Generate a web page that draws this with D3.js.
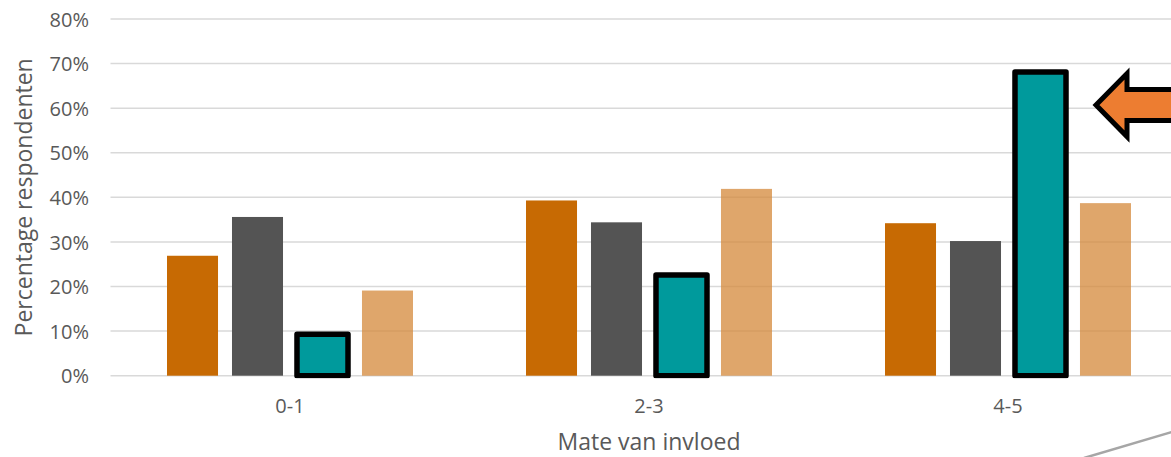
<!DOCTYPE html>
<html>
<head>
<meta charset="utf-8">
<script src="https://cdnjs.cloudflare.com/ajax/libs/d3/7.8.5/d3.min.js"></script>
<style>
  html, body { margin: 0; padding: 0; background: #fff; overflow: hidden; }
  svg { display: block; font-family: "Open Sans", "Noto Sans", sans-serif; }
</style>
</head>
<body>
<svg id="chart" width="1171" height="457"></svg>
<script>
// Influence groups and the share of respondents per series
const categories = ["0-1", "2-3", "4-5"];
const seriesNames = ["s1", "s2", "s3", "s4"];
const series1 = [0.269, 0.393, 0.342];
const series2 = [0.356, 0.344, 0.302];
const series3 = [0.093, 0.226, 0.681];
const series4 = [0.191, 0.419, 0.387];
const yTicks = [0, 0.1, 0.2, 0.3, 0.4, 0.5, 0.6, 0.7, 0.8];
const yTitle = "Percentage respondenten";
const xTitle = "Mate van invloed";
const arrowLevel = 0.607;

const colors = {
  s1: "#c76a03",
  s2: "#545454",
  s3: "#009a9c",
  s4: "#d4883a"
};

const allSeries = [series1, series2, series3, series4];
const rows = [];
categories.forEach((c, i) => {
  seriesNames.forEach((s, j) => rows.push({ cat: c, key: s, value: allSeries[j][i] }));
});

const svg = d3.select("#chart");
const plotLeft = 110.5, plotRight = 1187.5, plotTop = 19, plotBottom = 375.7;

const x0 = d3.scaleBand().domain(categories).range([plotLeft, plotRight]).paddingInner(0).paddingOuter(0);
const x1 = d3.scaleBand().domain(seriesNames).range([56.5, x0.bandwidth() - 56.5]).paddingInner(0.215).paddingOuter(0);
const y = d3.scaleLinear().domain([0, 0.8]).range([plotBottom, plotTop]);

// Horizontal gridlines
svg.append("g")
  .selectAll("line")
  .data(yTicks)
  .join("line")
  .attr("x1", plotLeft).attr("x2", plotRight)
  .attr("y1", d => y(d)).attr("y2", d => y(d))
  .attr("stroke", "#d9d9d9")
  .attr("stroke-width", 1.5);

// Y tick labels
const yAxis = d3.axisLeft(y).tickValues(yTicks).tickFormat(d3.format(".0%")).tickSize(0).tickPadding(0);
const gy = svg.append("g").attr("transform", "translate(89,0)").call(yAxis);
gy.select(".domain").remove();
gy.selectAll("text")
  .attr("fill", "#595959")
  .attr("dy", "0.36em")
  .style("font-size", "20px")
  .style("font-family", "'Open Sans', sans-serif");

// X tick labels
const xAxis = d3.axisBottom(x0).tickSize(0).tickPadding(0);
const gx = svg.append("g").attr("transform", "translate(0,413)").call(xAxis);
gx.select(".domain").remove();
gx.selectAll("text")
  .attr("fill", "#595959")
  .attr("dy", 0)
  .style("font-size", "20px")
  .style("font-family", "'Open Sans', sans-serif");

// Clip so the outlined bars stop just below the baseline
svg.append("defs").append("clipPath").attr("id", "plotClip")
  .append("rect").attr("x", 0).attr("y", 0).attr("width", 1171).attr("height", plotBottom + 2.5);

const bars = svg.append("g").attr("clip-path", "url(#plotClip)");
bars.selectAll("rect")
  .data(rows)
  .join("rect")
  .attr("x", d => x0(d.cat) + x1(d.key))
  .attr("width", x1.bandwidth())
  .attr("y", d => y(d.value))
  .attr("height", d => y(0) - y(d.value))
  .attr("fill", d => colors[d.key])
  .attr("fill-opacity", d => d.key === "s4" ? 0.75 : 1)
  .attr("stroke", d => d.key === "s3" ? "#000" : "none")
  .attr("stroke-width", d => d.key === "s3" ? 5.5 : 0)
  .attr("stroke-linejoin", "round");

// Arrow pointing at the highlighted bar
const target = rows.find(r => r.cat === "4-5" && r.key === "s3");
const tipX = x0(target.cat) + x1(target.key) + x1.bandwidth() + 30;
const tipY = y(arrowLevel);
const headLen = 31, headHalf = 31.5, shaftHalf = 15.5;
const arrowPts = [
  [tipX, tipY],
  [tipX + headLen, tipY - headHalf],
  [tipX + headLen, tipY - shaftHalf],
  [tipX + 140, tipY - shaftHalf],
  [tipX + 140, tipY + shaftHalf],
  [tipX + headLen, tipY + shaftHalf],
  [tipX + headLen, tipY + headHalf]
];
svg.append("path")
  .attr("d", d3.line()(arrowPts) + "Z")
  .attr("fill", "#ed7d31")
  .attr("stroke", "#000")
  .attr("stroke-width", 5)
  .attr("stroke-linejoin", "miter")
  .attr("stroke-miterlimit", 10);

// Axis titles
svg.append("text")
  .attr("transform", `translate(32,${(plotTop + plotBottom) / 2}) rotate(-90)`)
  .attr("text-anchor", "middle")
  .attr("fill", "#595959")
  .style("font-size", "23px")
  .text(yTitle);

svg.append("text")
  .attr("x", x0("2-3") + x0.bandwidth() / 2)
  .attr("y", 450)
  .attr("text-anchor", "middle")
  .attr("fill", "#595959")
  .style("font-size", "23px")
  .text(xTitle);

// Decorative slide line in the lower right corner
svg.append("line")
  .attr("x1", 1084).attr("y1", 458)
  .attr("x2", 1175).attr("y2", 431)
  .attr("stroke", "#a6a6a6")
  .attr("stroke-width", 2.5);
</script>
</body>
</html>
